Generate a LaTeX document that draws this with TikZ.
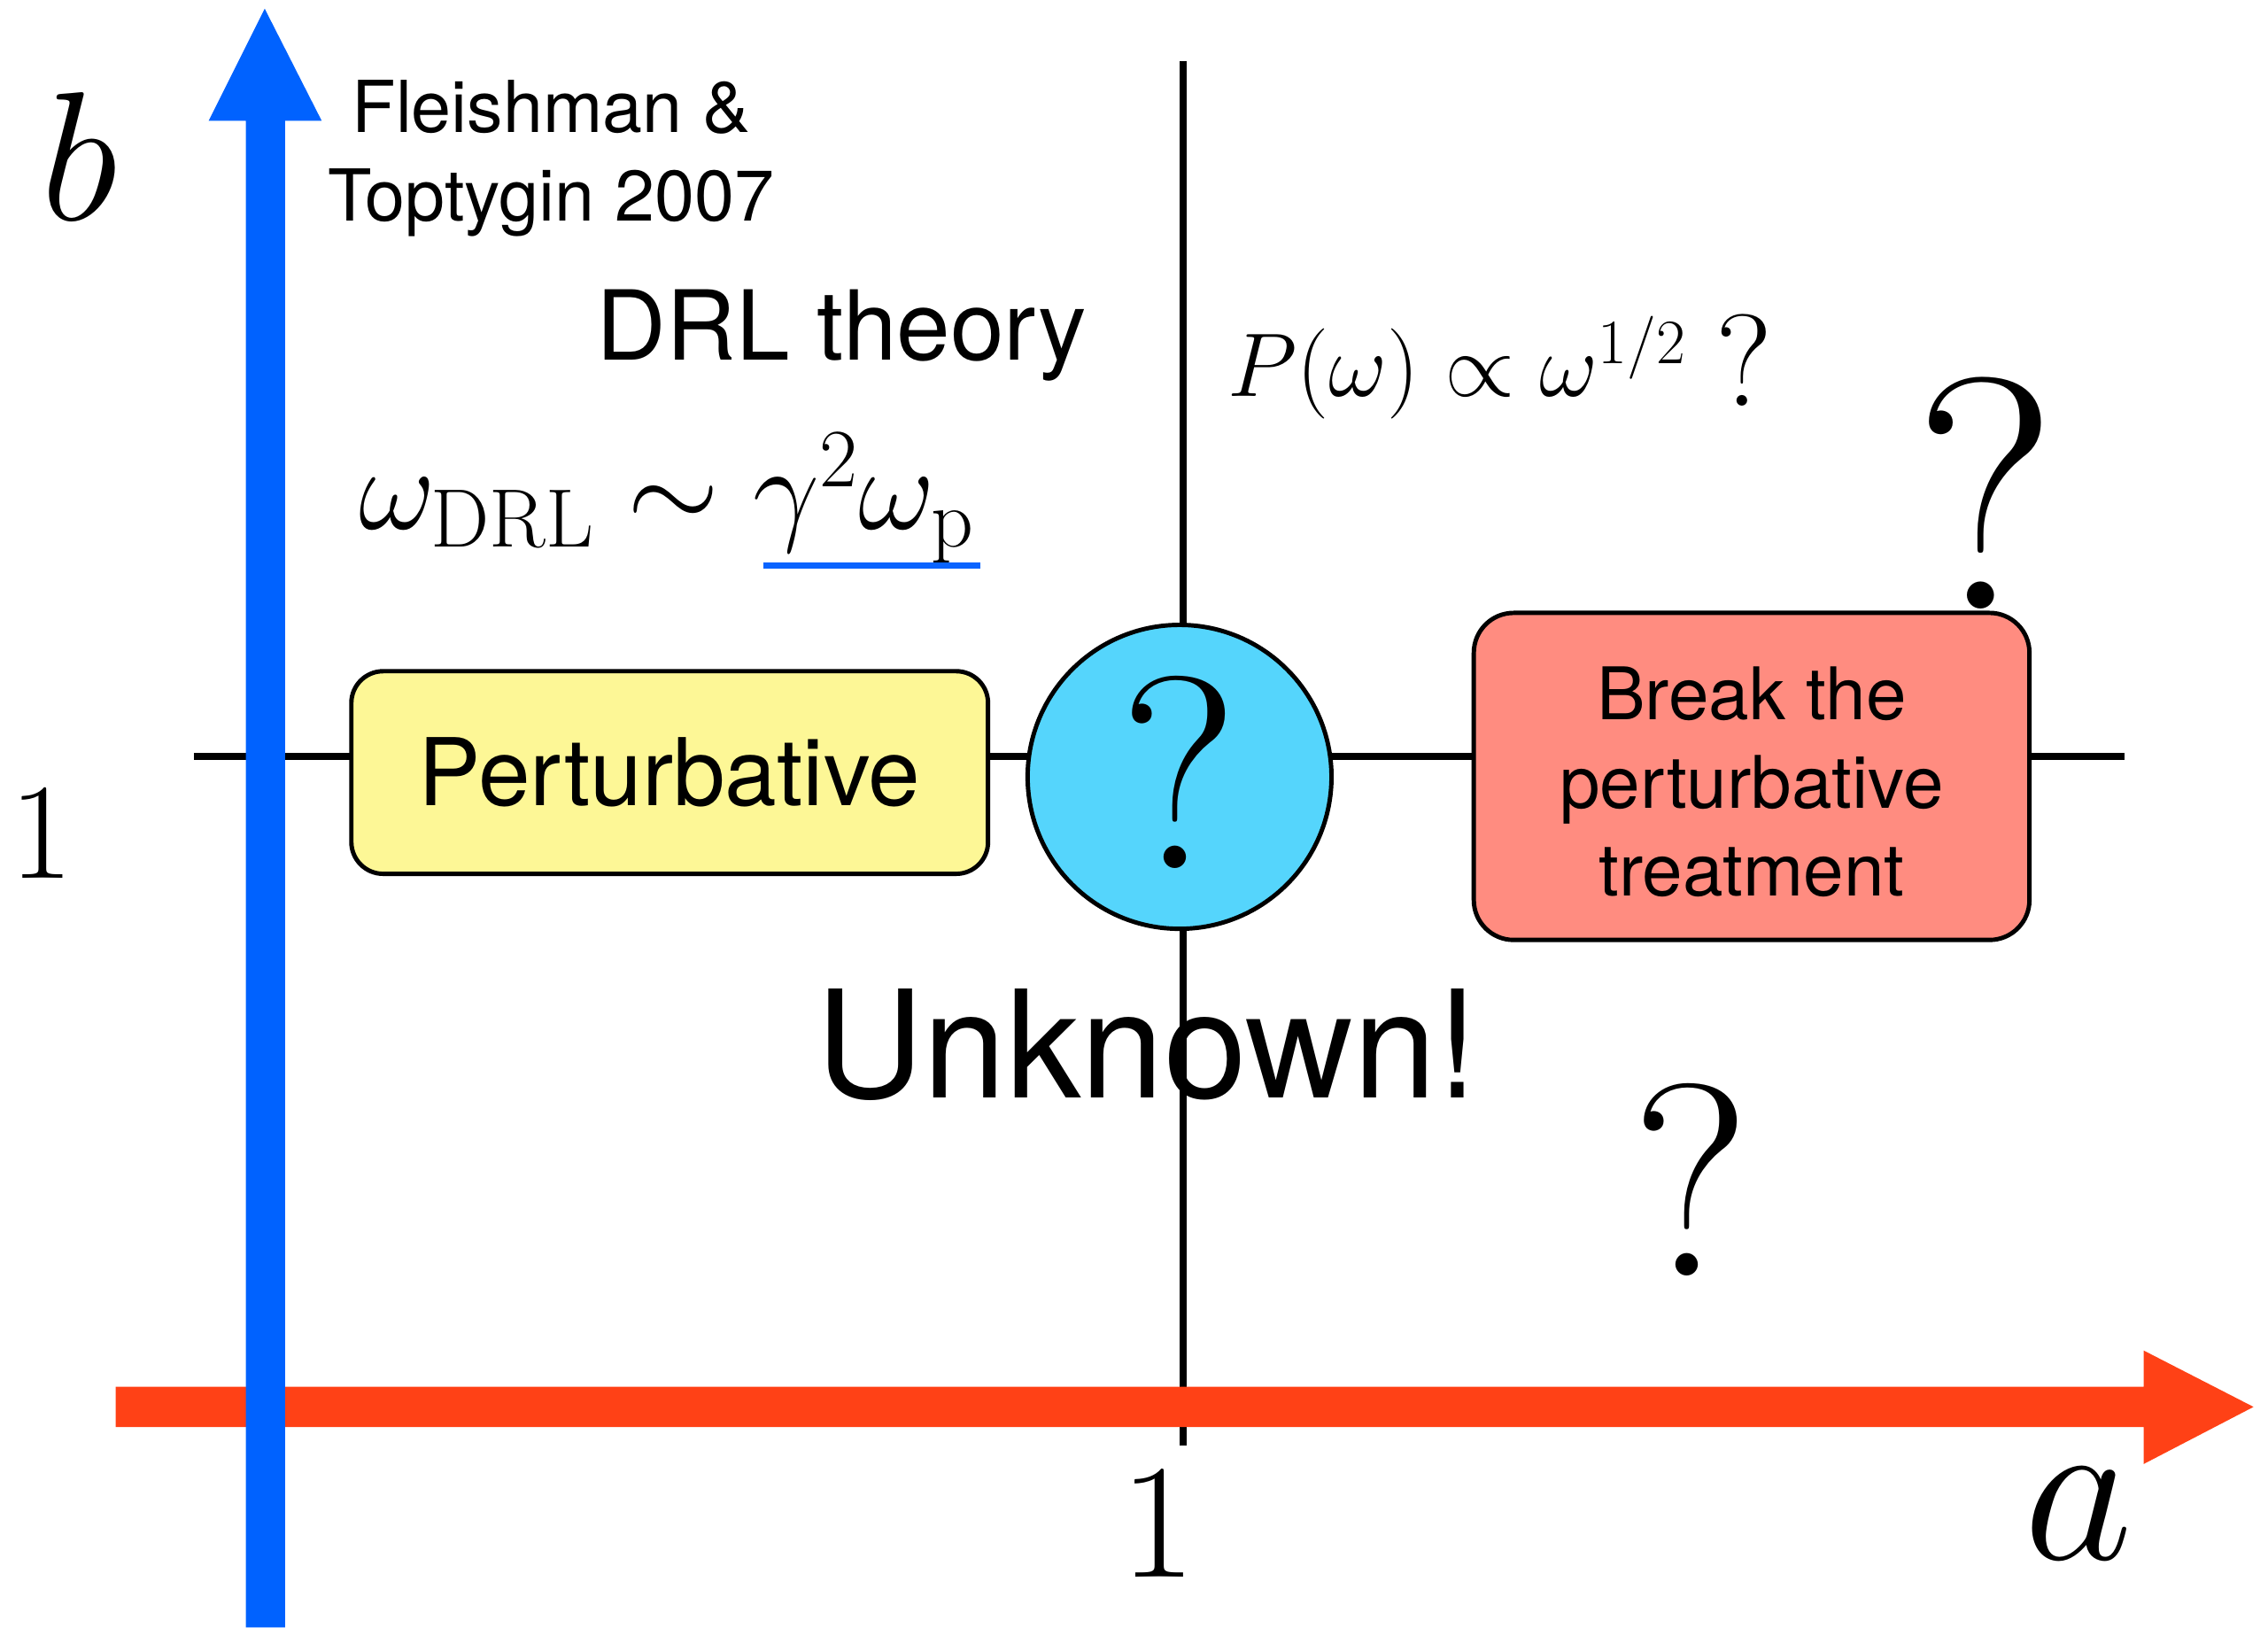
\RequirePackage{fix-cm}
\documentclass[tikz,border=0pt]{standalone}
\usepackage{fontspec}
\newfontfamily\heros{TeX Gyre Heros}
\definecolor{axisblue}{RGB}{0,98,255}
\definecolor{axisred}{RGB}{255,65,22}
\definecolor{boxyellow}{RGB}{253,247,150}
\definecolor{circblue}{RGB}{85,213,252}
\definecolor{boxred}{RGB}{255,140,128}
\definecolor{ulblue}{RGB}{10,100,255}
\begin{document}
\begin{tikzpicture}[x=0.016333cm,y=-0.016333cm,
  gridline/.style={line width=2.3pt,black},
  boxstyle/.style={draw=black,line width=1.4pt,inner sep=0pt},
  txt/.style={inner sep=0pt,outer sep=0pt,text=black}]
\useasboundingbox (0,0) rectangle (1568,1125);
% grid lines
\coordinate (hl) at (134,523);
\coordinate (hr) at (1469,523);
\coordinate (vt) at (818,42);
\coordinate (vb) at (818,999);
\draw[gridline] (hl) -- (hr);
\draw[gridline] (vt) -- (vb);
% axes
\fill[axisred] (80,958.5) -- (1482,958.5) -- (1482,933.5) -- (1558,972.5)
  -- (1482,1012) -- (1482,986.5) -- (80,986.5) -- cycle;
\fill[axisblue] (170,1125) -- (170,83.5) -- (144.3,83.5) -- (183,6)
  -- (222.4,83.5) -- (197,83.5) -- (197,1125) -- cycle;
% boxes
\node[boxstyle,fill=boxyellow,rounded corners=0.36cm,minimum width=7.187cm,
  minimum height=2.287cm,font=\heros\fontsize{30}{36}\selectfont] (pert) at (463,534) {Perturbative};
\node[boxstyle,fill=circblue,circle,minimum size=3.43cm,
  font=\fontsize{88}{100}\selectfont] (unk) at (815.5,537) {\raisebox{3pt}{?}};
\node[boxstyle,fill=boxred,rounded corners=0.45cm,minimum width=6.272cm,
  minimum height=3.691cm,align=center,font=\heros\fontsize{23.3}{28.4}\selectfont] (brk) at (1211,536.7)
  {\rule{0pt}{20.5pt}Break the\\perturbative\\treatment};
% texts
\node[txt,align=center,font=\heros\fontsize{23}{28.35}\selectfont] (ref) at (381,109.7)
  {Fleishman \&\\Toptygin 2007};
\node[txt,anchor=base,font=\heros\fontsize{31}{37}\selectfont] (drl) at (582,249) {DRL theory};
\node[txt,anchor=base west,font=\fontsize{38}{45}\selectfont] (wdrl) at (248,366)
  {$\omega_{\mathrm{DRL}}\sim\gamma^2\omega_{\mathrm{p}}$};
\coordinate (ul1) at (528,391);
\coordinate (ul2) at (678,391);
\draw[ulblue,line width=2.2pt] (ul1) -- (ul2);
\node[txt,anchor=base west,font=\fontsize{29}{34}\selectfont] (pw) at (849,274)
  {$P(\omega)\propto\omega^{1/2}$};
\node[txt,anchor=base,font=\fontsize{42}{48}\selectfont] (pq) at (1206,280.5) {?};
\node[txt,anchor=base,font=\fontsize{106}{120}\selectfont] (bigq) at (1373,421) {?};
\node[txt,anchor=base,font=\fontsize{88}{100}\selectfont] (lowq) at (1169,882) {?};
\node[txt,anchor=base,font=\heros\fontsize{48}{56}\selectfont] (unkn) at (793,759) {Unknown!};
\node[txt,anchor=base,font=\fontsize{59}{70}\selectfont] (lb) at (55,152) {$b$};
\node[txt,anchor=base,font=\fontsize{68}{80}\selectfont] (la) at (1437,1078) {$a$};
\node[txt,anchor=base,font=\fontsize{44}{52}\selectfont] (one1) at (29,607) {$1$};
\node[txt,anchor=base,font=\fontsize{52.5}{62}\selectfont] (one2) at (801,1090) {$1$};
\end{tikzpicture}
\end{document}
